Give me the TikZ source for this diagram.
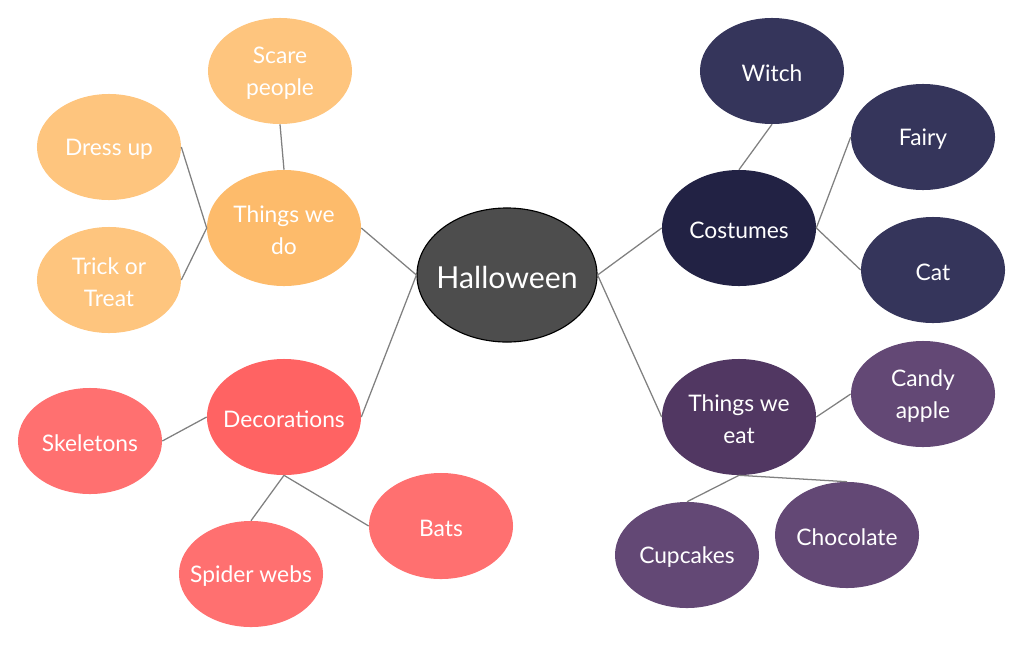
\documentclass[tikz,border=0pt]{standalone}
\usepackage{fontspec}
\setmainfont{Lato}
\usepackage{tikz}
\usetikzlibrary{shapes.geometric}
\definecolor{centre}{HTML}{4D4D4D}
\definecolor{doA}{HTML}{FDBB6B}
\definecolor{doB}{HTML}{FEC57E}
\definecolor{decoA}{HTML}{FF6363}
\definecolor{decoB}{HTML}{FF7070}
\definecolor{costA}{HTML}{222244}
\definecolor{costB}{HTML}{35355B}
\definecolor{eatA}{HTML}{513762}
\definecolor{eatB}{HTML}{634875}
\tikzset{
  words/.style={text=white, inner sep=0pt, align=center, yshift=-1.5pt,
    font=\fontsize{16.2}{22.7}\selectfont},
  bubble/.style={ellipse, inner sep=0pt},
  branch/.style={bubble, minimum width=3.85cm, minimum height=2.9cm},
  leaf/.style={bubble, minimum width=3.6cm, minimum height=2.65cm},
  link/.style={draw=gray, line width=0.9pt},
}

\begin{document}
\begin{tikzpicture}[x=0.025cm,y=-0.025cm]
        \useasboundingbox (0,0) rectangle (1024,645);
        % centre
        \node[bubble, fill=centre, draw=black, line width=0.8pt,
          minimum width=4.5cm, minimum height=3.35cm,
          label={[words, font=\fontsize{21.5}{26}\selectfont]center:Halloween}] (halloween) at (507,275) {};
        % branches
        \node[branch, fill=doA, label={[words]center:Things we\\do}] (do) at (284,228) {};
        \node[branch, fill=decoA, label={[words]center:Decorations}] (deco) at (284,417) {};
        \node[branch, fill=costA, label={[words]center:Costumes}] (cost) at (739,228) {};
        \node[branch, fill=eatA, label={[words]center:Things we\\eat}] (eat) at (739,417) {};
        % leaves
        \node[leaf, fill=doB, label={[words]center:Scare\\people}] (scare) at (280,71) {};
        \node[leaf, fill=doB, label={[words]center:Dress up}] (dress) at (109,147) {};
        \node[leaf, fill=doB, label={[words]center:Trick or\\Treat}] (trick) at (109,280) {};
        \node[leaf, fill=decoB, label={[words]center:Skeletons}] (skel) at (90,441) {};
        \node[leaf, fill=decoB, label={[words]center:Spider webs}] (spider) at (251,574) {};
        \node[leaf, fill=decoB, label={[words]center:Bats}] (bats) at (441,526) {};
        \node[leaf, fill=costB, label={[words]center:Witch}] (witch) at (772,71) {};
        \node[leaf, fill=costB, label={[words]center:Fairy}] (fairy) at (923,137) {};
        \node[leaf, fill=costB, label={[words]center:Cat}] (cat) at (933,270) {};
        \node[leaf, fill=eatB, label={[words]center:Candy\\apple}] (candy) at (923,394) {};
        \node[leaf, fill=eatB, label={[words]center:Cupcakes}] (cup) at (687,555) {};
        \node[leaf, fill=eatB, label={[words]center:Chocolate}] (choc) at (847,535) {};
        % links
        \draw[link] (halloween.west) -- (do.east);
        \draw[link] (halloween.west) -- (deco.east);
        \draw[link] (halloween.east) -- (cost.west);
        \draw[link] (halloween.east) -- (eat.west);
        \draw[link] (do.north) -- (scare.south);
        \draw[link] (do.west) -- (dress.east);
        \draw[link] (do.west) -- (trick.east);
        \draw[link] (deco.west) -- (skel.east);
        \draw[link] (deco.south) -- (spider.north);
        \draw[link] (deco.south) -- (bats.west);
        \draw[link] (cost.north) -- (witch.south);
        \draw[link] (cost.east) -- (fairy.west);
        \draw[link] (cost.east) -- (cat.west);
        \draw[link] (eat.east) -- (candy.west);
        \draw[link] (eat.south) -- (cup.north);
        \draw[link] (eat.south) -- (choc.north);
    \end{tikzpicture}
\end{document}
